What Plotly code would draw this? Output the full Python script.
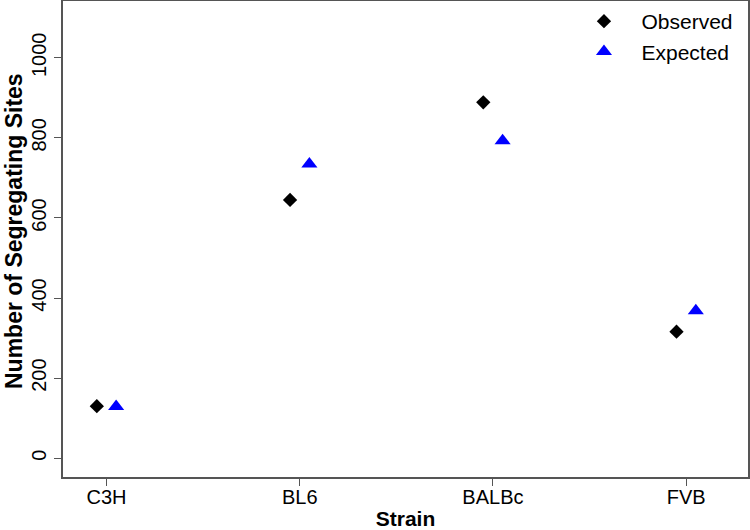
import plotly.graph_objects as go

strains = ['C3H', 'BL6', 'BALBc', 'FVB']
observed = [130, 645, 889, 316]
expected = [129, 735, 793, 368]
y_ticks = [0, 200, 400, 600, 800, 1000]

pos = list(range(1, len(strains) + 1))
offset = 0.05

fig = go.Figure()

fig.add_trace(go.Scatter(
    x=[p - offset for p in pos], y=observed,
    mode='markers', name='Observed',
    marker=dict(symbol='diamond', size=11, color='black')
))
fig.add_trace(go.Scatter(
    x=[p + offset for p in pos], y=expected,
    mode='markers', name='Expected',
    marker=dict(symbol='triangle-up', size=14, color='#0000ff')
))

axis_line = dict(showline=True, linecolor='#555555', linewidth=1.5, mirror=True,
                 showgrid=False, zeroline=False, ticks='outside', ticklen=7,
                 tickcolor='#555555', tickfont=dict(size=20, color='black'),
                 automargin=False)

fig.update_layout(
    width=750, height=530,
    margin=dict(l=63, r=2, t=1, b=53),
    plot_bgcolor='white', paper_bgcolor='white',
    font=dict(family='Liberation Sans, Arial, sans-serif', color='black'),
    xaxis=dict(range=[0.775, 4.32], tickvals=pos, ticktext=strains,
               ticklabelstandoff=-6,
               title=dict(text='<b>Strain</b>', font=dict(size=21), standoff=5),
               **axis_line),
    yaxis=dict(range=[-47, 1142], tickvals=y_ticks, tickangle=-90, **axis_line),
    legend=dict(x=0.735, y=1.0, xanchor='left', yanchor='top',
                bgcolor='rgba(0,0,0,0)', font=dict(size=21),
                tracegroupgap=0, itemwidth=65),
)

# y title as an annotation so it sits where the reference has it
fig.add_annotation(text='<b>Number of Segregating Sites</b>', textangle=-90,
                   xref='paper', yref='paper', x=0, y=0.5, xanchor='center',
                   yanchor='middle', xshift=-49, yshift=8, showarrow=False,
                   font=dict(size=23))

# drop the browser's default body margin so the figure sits at the page corner
fig.write_html("out.html", config={'displayModeBar': False},
               post_script="document.body.style.margin='0';")
